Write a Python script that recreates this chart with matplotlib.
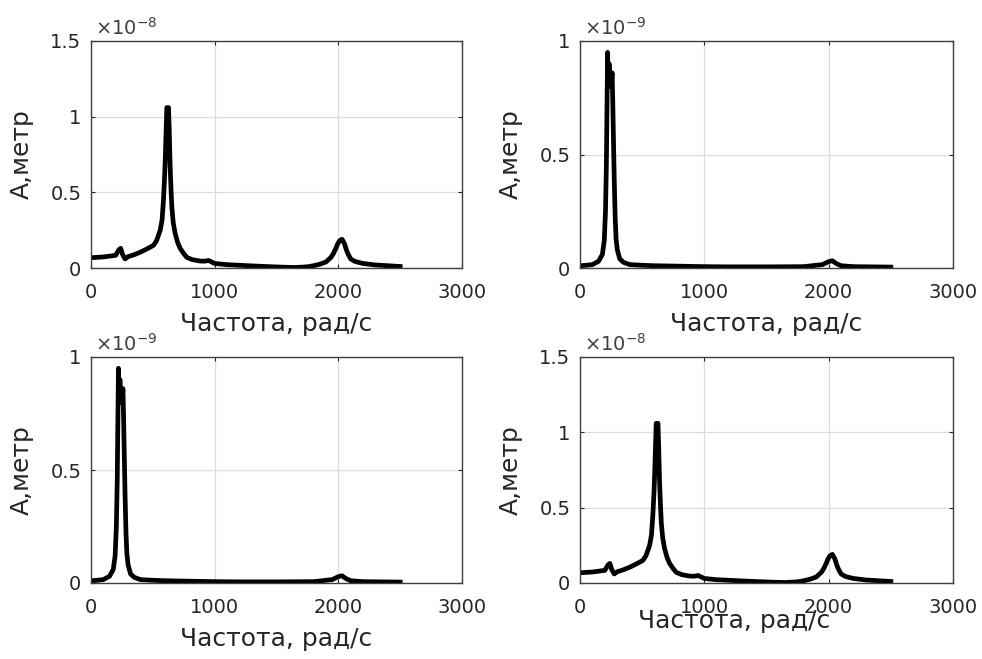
import matplotlib
matplotlib.use('Agg')
import matplotlib.pyplot as plt
from matplotlib.ticker import FuncFormatter

plt.rcParams['font.family'] = ['DejaVu Sans']

# Spectrum with main peak near 615 rad/s (amplitude in units of 1e-8 m)
freq_a = [0, 100, 200, 225, 240, 255, 275, 300, 350, 400, 450, 506, 530, 560,
          575, 586, 595, 600, 607, 613, 627, 633, 640, 647, 654, 665, 680, 700,
          721, 750, 775, 820, 882, 920, 950, 1000, 1100, 1200, 1350, 1500,
          1650, 1750, 1800, 1850, 1900, 1940, 1960, 1980, 1995, 2010, 2030,
          2050, 2065, 2080, 2100, 2130, 2150, 2200, 2300, 2400, 2500]
amp_a = [0.068, 0.073, 0.084, 0.12, 0.13, 0.09, 0.06, 0.075, 0.088, 0.105,
         0.125, 0.15, 0.18, 0.25, 0.32, 0.45, 0.6, 0.71, 0.9, 1.06, 1.06, 0.9,
         0.67, 0.52, 0.40, 0.3, 0.23, 0.17, 0.13, 0.095, 0.07, 0.055, 0.046,
         0.045, 0.05, 0.03, 0.022, 0.018, 0.012, 0.007, 0.003, 0.008, 0.015,
         0.025, 0.04, 0.07, 0.095, 0.13, 0.16, 0.18, 0.19, 0.16, 0.12, 0.09,
         0.06, 0.045, 0.04, 0.03, 0.02, 0.015, 0.01]

# Spectrum with double spike near 220-265 rad/s (amplitude in units of 1e-9 m)
freq_b = [0, 50, 100, 150, 180, 195, 205, 212, 218, 222, 228, 234, 240, 246,
          252, 258, 263, 268, 275, 283, 290, 300, 320, 350, 400, 500, 600, 800,
          1000, 1200, 1500, 1800, 1950, 2000, 2030, 2060, 2100, 2200, 2350,
          2500]
amp_b = [0.01, 0.012, 0.015, 0.03, 0.06, 0.12, 0.25, 0.45, 0.75, 0.95, 0.8,
         0.9, 0.8, 0.85, 0.8, 0.86, 0.75, 0.6, 0.4, 0.22, 0.13, 0.08, 0.04,
         0.025, 0.015, 0.012, 0.01, 0.008, 0.006, 0.005, 0.005, 0.006, 0.015,
         0.028, 0.032, 0.02, 0.01, 0.006, 0.005, 0.004]

xticks = [0, 1000, 2000, 3000]
yticks_a = [0, 0.5, 1, 1.5]
yticks_b = [0, 0.5, 1]

xlabel = 'Частота, рад/с'
ylabel = 'A,метр'
text_col = '#262626'

W, H = 982, 659
fig = plt.figure(figsize=(W / 100, H / 100), dpi=100)


def make_axes(left, top, right, bottom):
    return fig.add_axes([left / W, 1 - bottom / H, (right - left) / W, (bottom - top) / H])


panels = [
    # (axes box px, freq, amp, yticks, exponent, xlabel coords)
    ((91, 41, 462, 268), freq_a, amp_a, yticks_a, '-8', (0.5, -0.195)),
    ((580, 41, 953, 268), freq_b, amp_b, yticks_b, '-9', (0.5, -0.195)),
    ((91, 357, 462, 583), freq_b, amp_b, yticks_b, '-9', (0.5, -0.195)),
    ((580, 357, 953, 583), freq_a, amp_a, yticks_a, '-8', (0.413, -0.115)),
]

for box, f, a, yt, expo, lab_xy in panels:
    ax = make_axes(*box)
    ax.plot(f, a, color='black', lw=3.4, solid_joinstyle='round')
    ax.set_xlim(0, 3000)
    ax.set_ylim(0, yt[-1])
    ax.set_xticks(xticks)
    ax.set_yticks(yt)
    ax.yaxis.set_major_formatter(FuncFormatter(lambda v, p: '%g' % v))
    ax.grid(True, color='#dcdcdc', lw=0.9)
    ax.set_axisbelow(True)
    ax.tick_params(direction='in', length=3, width=0.8, top=True, right=True,
                   labelsize=14, labelcolor=text_col, color=text_col)
    ax.tick_params(axis='x', pad=11)
    ax.tick_params(axis='y', pad=7)
    for s in ax.spines.values():
        s.set_color('#404040')
        s.set_linewidth(1.0)
    ax.set_xlabel(xlabel, fontsize=18, color=text_col)
    ax.xaxis.set_label_coords(*lab_xy)
    ax.set_ylabel(ylabel, fontsize=18, color=text_col, labelpad=12)
    ax.text(0.01, 1.01, r'$\times10^{%s}$' % expo, transform=ax.transAxes,
            fontsize=14, color='#404040', ha='left', va='bottom')

plt.savefig('out.png', dpi=100)
